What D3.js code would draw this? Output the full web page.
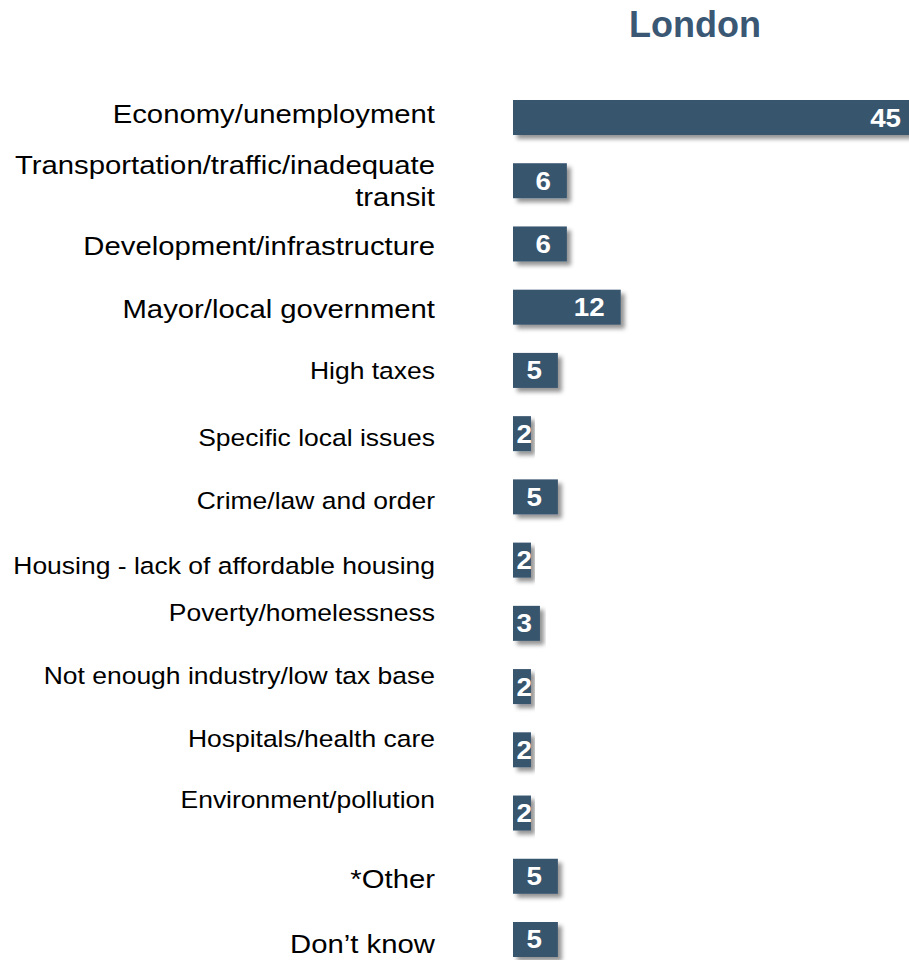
<!DOCTYPE html>
<html>
<head>
<meta charset="utf-8">
<script src="https://cdn.jsdelivr.net/npm/d3@7"></script>
<style>
  html, body { margin: 0; padding: 0; background: #ffffff; }
  svg { display: block; }
  text { font-family: "Liberation Sans", Arial, Helvetica, sans-serif; }
</style>
</head>
<body>
<div id="chart"></div>
<script>
// ---- data ----
const title = "London";
const categories = [
  "Economy/unemployment",
  "Transportation/traffic/inadequate\ntransit",
  "Development/infrastructure",
  "Mayor/local government",
  "High taxes",
  "Specific local issues",
  "Crime/law and order",
  "Housing - lack of affordable housing",
  "Poverty/homelessness",
  "Not enough industry/low tax base",
  "Hospitals/health care",
  "Environment/pollution",
  "*Other",
  "Don\u2019t know"
];
const values = [45, 6, 6, 12, 5, 2, 5, 2, 3, 2, 2, 2, 5, 5];

// ---- style / layout (not data) ----
const W = 909, H = 960;
const barColor = "#37546E";
const titleColor = "#3A5774";
const largeLabels = new Set([0, 1, 2, 3, 12, 13]);
const labelNudge = [-4, 0, 2, 1, 0, 4, 4, 5, -11, -11, -11, -13, 2, 4];
const stretch = 1.127;

const svg = d3.select("#chart").append("svg")
  .attr("width", W).attr("height", H);

const defs = svg.append("defs");
const f = defs.append("filter").attr("id", "shadow")
  .attr("x", "-10%").attr("y", "-20%").attr("width", "130%").attr("height", "160%");
f.append("feDropShadow")
  .attr("dx", 4).attr("dy", 4).attr("stdDeviation", 2.2)
  .attr("flood-color", "#000").attr("flood-opacity", 0.42);

const x = d3.scaleLinear().domain([0, 45]).range([513, 917]);
const y = d3.scaleBand().domain(d3.range(categories.length))
  .range([100, 957]).paddingInner(1 - 35 / 63.23).paddingOuter(0);

// title
svg.append("text")
  .attr("x", 695).attr("y", 37)
  .attr("text-anchor", "middle")
  .attr("font-size", 36).attr("font-weight", "bold")
  .attr("fill", titleColor)
  .text(title);

// bars
svg.append("g").selectAll("rect")
  .data(values)
  .join("rect")
  .attr("x", x(0))
  .attr("y", (d, i) => y(i))
  .attr("width", d => x(d) - x(0))
  .attr("height", y.bandwidth())
  .attr("fill", barColor)
  .attr("filter", "url(#shadow)");

// value labels
svg.append("g").selectAll("g")
  .data(values)
  .join("g")
  .attr("transform", (d, i) => {
    const xe = Math.max(x(d) - 16, x(0) + 19);
    return `translate(${xe},${y(i) + y.bandwidth() / 2 + 9}) scale(1.11,1)`;
  })
  .append("text")
  .attr("text-anchor", "end")
  .attr("font-size", 25).attr("font-weight", "bold")
  .attr("fill", "#ffffff")
  .text(d => d);

// category labels
const labelG = svg.append("g");
categories.forEach((c, i) => {
  const fs = largeLabels.has(i) ? 26 : 23.5;
  const lines = c.split("\n");
  const lh = 32;
  const cy = y(i) + y.bandwidth() / 2 + labelNudge[i];
  lines.forEach((ln, k) => {
    const ly = cy + (k - (lines.length - 1) / 2) * lh + fs * 0.36;
    labelG.append("g")
      .attr("transform", `translate(435,${ly}) scale(${stretch},1)`)
      .append("text")
      .attr("text-anchor", "end")
      .attr("font-size", fs)
      .attr("fill", "#000")
      .text(ln);
  });
});
</script>
</body>
</html>
